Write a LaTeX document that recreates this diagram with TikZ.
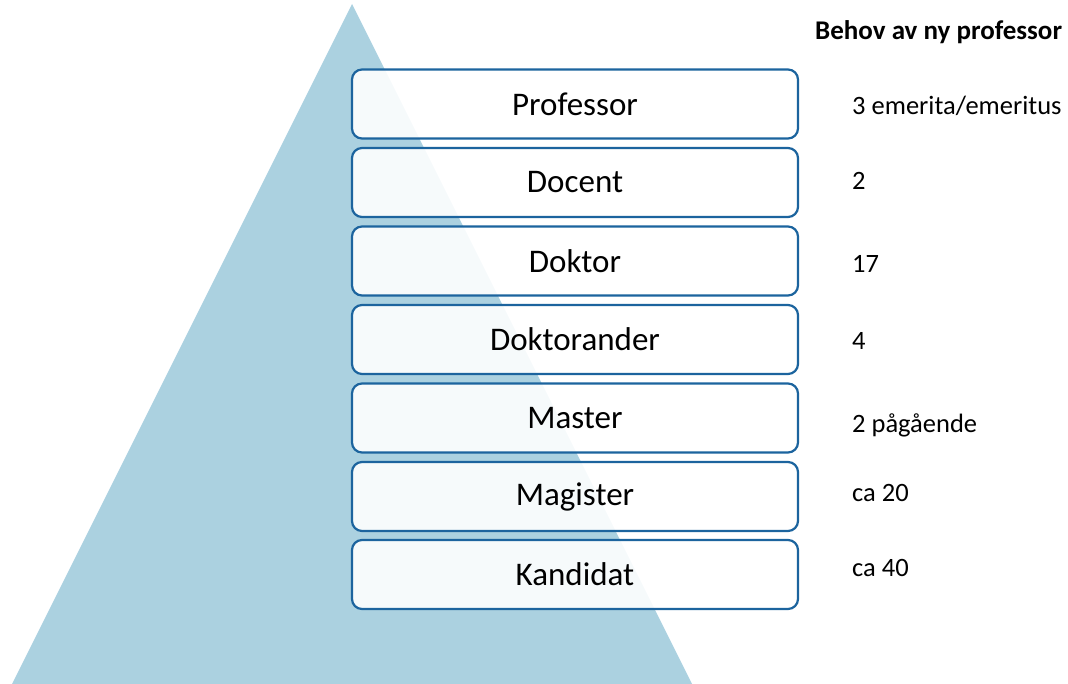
\documentclass[tikz,border=0pt]{standalone}
\usepackage{fontspec}
\setmainfont{Carlito}
\definecolor{tri}{RGB}{171,209,224}
\definecolor{edge}{RGB}{28,100,158}
\begin{document}
\begin{tikzpicture}[x=1pt,y=-1pt,
  level/.style={draw=edge, line width=2.2pt, fill=white, fill opacity=0.9, text opacity=1,
    rounded corners=10pt, minimum width=446pt, minimum height=69pt, inner sep=0pt,
    font=\fontsize{33}{38}\selectfont},
  note/.style={anchor=base west, inner sep=0pt, font=\fontsize{26.5}{32}\selectfont}]
\useasboundingbox (0,0) rectangle (1068,684);
\fill[tri] (352,4) -- (692,684) -- (12,684) -- cycle;
\node[level] (prof) at (575,104) {Professor};
\node[level] (doc) at (575,182.5) {Docent};
\node[level] (dr) at (575,261) {Doktor};
\node[level] (dnd) at (575,339.5) {Doktorander};
\node[level] (mas) at (575,418) {Master};
\node[level] (mag) at (575,496.5) {Magister};
\node[level] (kand) at (575,574.5) {Kandidat};
\node[note, font=\fontsize{27}{32}\selectfont\bfseries] (head) at (815,40) {Behov av ny professor};
\node[note] (n1) at (852,115) {3 emerita/emeritus};
\node[note] (n2) at (852,190) {2};
\node[note] (n3) at (852,273) {17};
\node[note] (n4) at (852,350) {4};
\node[note] (n5) at (852,432) {2 pågående};
\node[note] (n6) at (852,501) {ca 20};
\node[note] (n7) at (852,576) {ca 40};
\end{tikzpicture}
\end{document}
